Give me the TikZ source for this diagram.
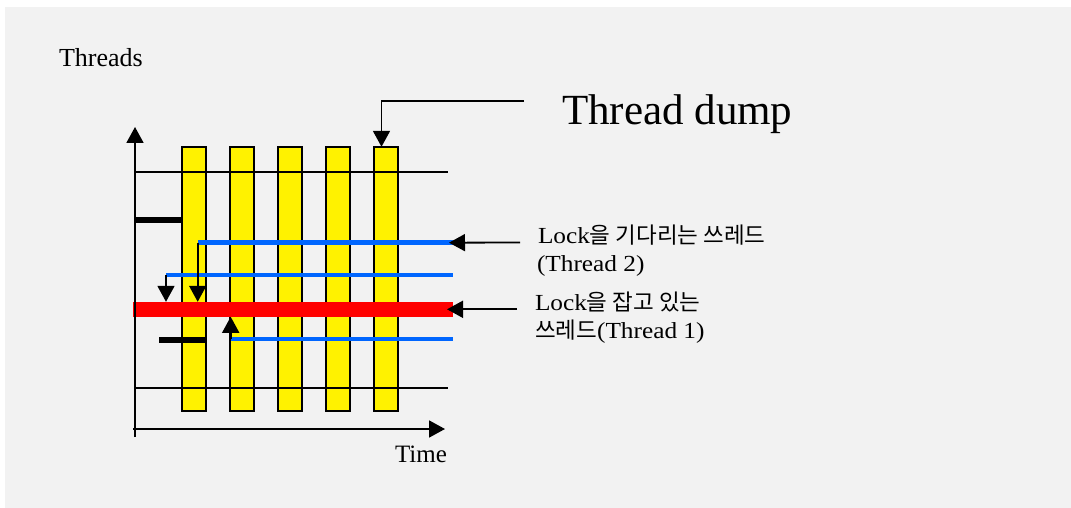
\documentclass[tikz,border=0pt]{standalone}
\usepackage{fontspec}
\setmainfont{Liberation Serif}
\newfontfamily\korfont{Noto Sans CJK KR}
\newfontfamily\labfont[FakeStretch=1.1]{Liberation Serif}
\usetikzlibrary{arrows.meta}
\definecolor{bg}{HTML}{F2F2F2}
\definecolor{tblue}{HTML}{0066FF}
\newcommand\kor[1]{{\korfont\fontsize{22.5}{28}\selectfont #1}}
\tikzset{
 dumpbar/.style={draw=black, line width=1.5pt, fill=yellow, minimum width=24pt, minimum height=264pt, inner sep=0pt, outer sep=0pt},
 thread/.style={fill=tblue, minimum height=4.5pt, inner sep=0pt, outer sep=0pt, anchor=west},
 lockbar/.style={fill=red, minimum height=15pt, inner sep=0pt, outer sep=0pt, anchor=west},
 held/.style={fill=black, minimum height=6pt, inner sep=0pt, outer sep=0pt, anchor=west},
 gridline/.style={line width=1.2pt},
 axis/.style={line width=1.8pt, -{Triangle[width=17pt,length=16pt]}},
 conn/.style={line width=1.8pt, -{Triangle[width=17pt,length=16pt]}},
 txt/.style={anchor=base west, inner sep=0pt, outer sep=0pt},
 lab/.style={txt, font=\labfont\fontsize{23}{28}\selectfont},
}
\begin{document}
\begin{tikzpicture}[x=1pt,y=-1pt]
\useasboundingbox (0,0) rectangle (1071,508);
\fill[white] (0,0) rectangle (1071,508);
\fill[bg] (5,7) rectangle (1071,508);

% yellow thread-dump bars
\node[dumpbar] (b1) at (193.9,278.8) {};
\node[dumpbar] (b2) at (242,278.8) {};
\node[dumpbar] (b3) at (289.9,278.8) {};
\node[dumpbar] (b4) at (337.9,278.8) {};
\node[dumpbar] (b5) at (386,278.8) {};

% thin horizontal thread lines
\coordinate (g1a) at (135,172);
\coordinate (g1b) at (448,172);
\coordinate (g2a) at (135,388);
\coordinate (g2b) at (448,388);
\draw[gridline] (g1a) -- (g1b);
\draw[gridline] (g2a) -- (g2b);

% black held segments
\node[held, minimum width=47.7pt] (k1) at (135,220) {};
\node[held, minimum width=48pt] (k2) at (159,340) {};

% blue waiting threads and red lock-holding thread
\node[thread, minimum width=255.3pt] (blue1) at (197.7,242.7) {};
\node[thread, minimum width=287pt] (blue2) at (166,275) {};
\node[lockbar, minimum width=320pt] (red) at (133,309.3) {};
\node[thread, minimum width=222.3pt] (blue3) at (230.7,339) {};

% axes
\coordinate (ybot) at (135,437);
\coordinate (ytop) at (135,127);
\coordinate (xl) at (133,429);
\coordinate (xr) at (445,429);
\draw[axis] (ybot) -- (ytop);
\draw[axis] (xl) -- (xr);

% arrows between threads
\draw[conn] (blue2.west) -- (blue2.west |- red.north);
\draw[conn] (blue1.west) -- (blue1.west |- red.north);
\draw[conn] (blue3.west) -- (blue3.west |- red.south);

% thread dump connector
\coordinate (tdc) at (524,100.7);
\draw[conn] (tdc) -| ([xshift=-4.5pt]b5.north);

% label connectors
\coordinate (c1) at (520,242.5);
\coordinate (c2) at (517,309.3);
\draw[conn] (c1) -- ([xshift=-4pt]blue1.east);
\draw[conn] (c2) -- ([xshift=-6pt]red.east);

% texts
\node[txt, font=\fontsize{26}{30}\selectfont] (threads) at (59,67) {Threads};
\node[txt, font=\fontsize{25}{30}\selectfont] (time) at (395,462) {Time};
\node[txt, font=\fontsize{43}{50}\selectfont] (dump) at (562,125) {Thread dump};
\node[lab] (w1) at (538,243) {Lock\kor{을 기다리는 쓰레드}};
\node[lab] (w2) at (537,271) {(Thread 2)};
\node[lab] (h1) at (535,310) {Lock\kor{을 잡고 있는}};
\node[lab] (h2) at (535,338) {\kor{쓰레드}(Thread 1)};
\end{tikzpicture}
\end{document}
